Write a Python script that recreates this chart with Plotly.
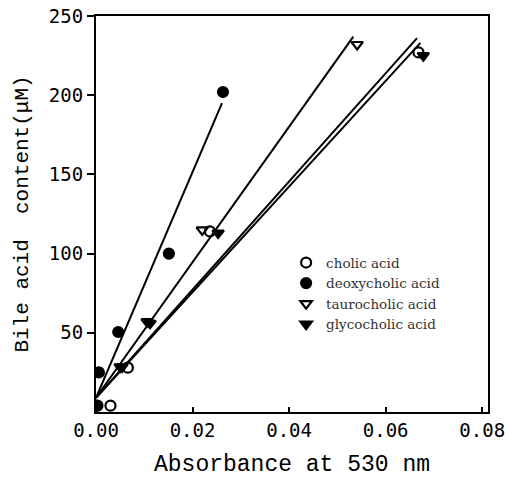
import plotly.graph_objects as go

# --- data ---
cholic_x = [0.0003, 0.0030, 0.0066, 0.0236, 0.0668]
cholic_y = [4, 4, 28, 114, 227]
deoxy_x = [0.0, 0.0006, 0.0046, 0.0151, 0.0263]
deoxy_y = [4, 25, 50.5, 100, 202]
tauro_x = [0.0, 0.0050, 0.0106, 0.0220, 0.0541]
tauro_y = [4, 28.5, 57, 115, 232]
glyco_x = [0.0, 0.0054, 0.0112, 0.0253, 0.0678]
glyco_y = [4, 28.5, 56, 113, 225]

# fitted lines (endpoints)
fit_cholic_x = [0.0, 0.0665]
fit_cholic_y = [9, 236]
fit_deoxy_x = [0.0, 0.0261]
fit_deoxy_y = [9, 195]
fit_tauro_x = [0.0, 0.0533]
fit_tauro_y = [9, 237]
fit_glyco_x = [0.0, 0.0672]
fit_glyco_y = [9, 233]

names = ["cholic acid", "deoxycholic acid", "taurocholic acid", "glycocholic acid"]
x_ticks = [0.0, 0.02, 0.04, 0.06, 0.08]
y_ticks = [50, 100, 150, 200, 250]

fig = go.Figure()

for fx, fy in [(fit_cholic_x, fit_cholic_y), (fit_deoxy_x, fit_deoxy_y),
               (fit_tauro_x, fit_tauro_y), (fit_glyco_x, fit_glyco_y)]:
    fig.add_trace(go.Scatter(x=fx, y=fy, mode="lines", showlegend=False,
                             line=dict(color="black", width=2), hoverinfo="skip"))

specs = [
    (cholic_x, cholic_y, "circle-open", names[0]),
    (deoxy_x, deoxy_y, "circle", names[1]),
    (tauro_x, tauro_y, "triangle-down-open", names[2]),
    (glyco_x, glyco_y, "triangle-down", names[3]),
]
for xs, ys, sym, nm in specs:
    fig.add_trace(go.Scatter(
        x=xs, y=ys, mode="markers", name=nm,
        marker=dict(symbol=sym, size=10, color="black",
                    line=dict(color="black", width=2.2)),
    ))

tick_font = dict(family="DejaVu Sans Mono, monospace", size=19, color="black")
title_family = "Liberation Mono, Courier New, monospace"

fig.update_layout(
    width=509, height=485,
    margin=dict(l=96, r=21, t=16, b=73),
    paper_bgcolor="white", plot_bgcolor="white",
    showlegend=True,
    legend=dict(x=0.485, y=0.416, xanchor="left", yanchor="top",
                font=dict(family="DejaVu Serif, serif", size=13.5, color="#333"),
                bgcolor="rgba(0,0,0,0)", tracegroupgap=0, itemwidth=30),
    xaxis=dict(range=[0, 0.0812], tickvals=x_ticks,
               ticktext=["%.2f" % v for v in x_ticks],
               ticks="inside", ticklen=5, tickwidth=1.5, tickcolor="black",
               showgrid=False, zeroline=False, automargin=False,
               showline=True, linecolor="black", linewidth=2, mirror=True,
               tickfont=tick_font,
               title=dict(text="Absorbance at 530 nm",
                          font=dict(family=title_family, size=23, color="black"))),
    yaxis=dict(range=[0, 250], tickvals=y_ticks,
               ticks="outside", ticklen=7, tickwidth=1.5, tickcolor="black",
               showgrid=False, zeroline=False, automargin=False,
               showline=True, linecolor="black", linewidth=2, mirror=True,
               tickfont=tick_font,
               title=dict(text="Bile acid  content(μM)",
                          font=dict(family=title_family, size=21, color="black"))),
)

fig.write_html("out.html",
               config={"displayModeBar": False},
               post_script="document.body.style.margin='0';document.body.style.padding='0';")
